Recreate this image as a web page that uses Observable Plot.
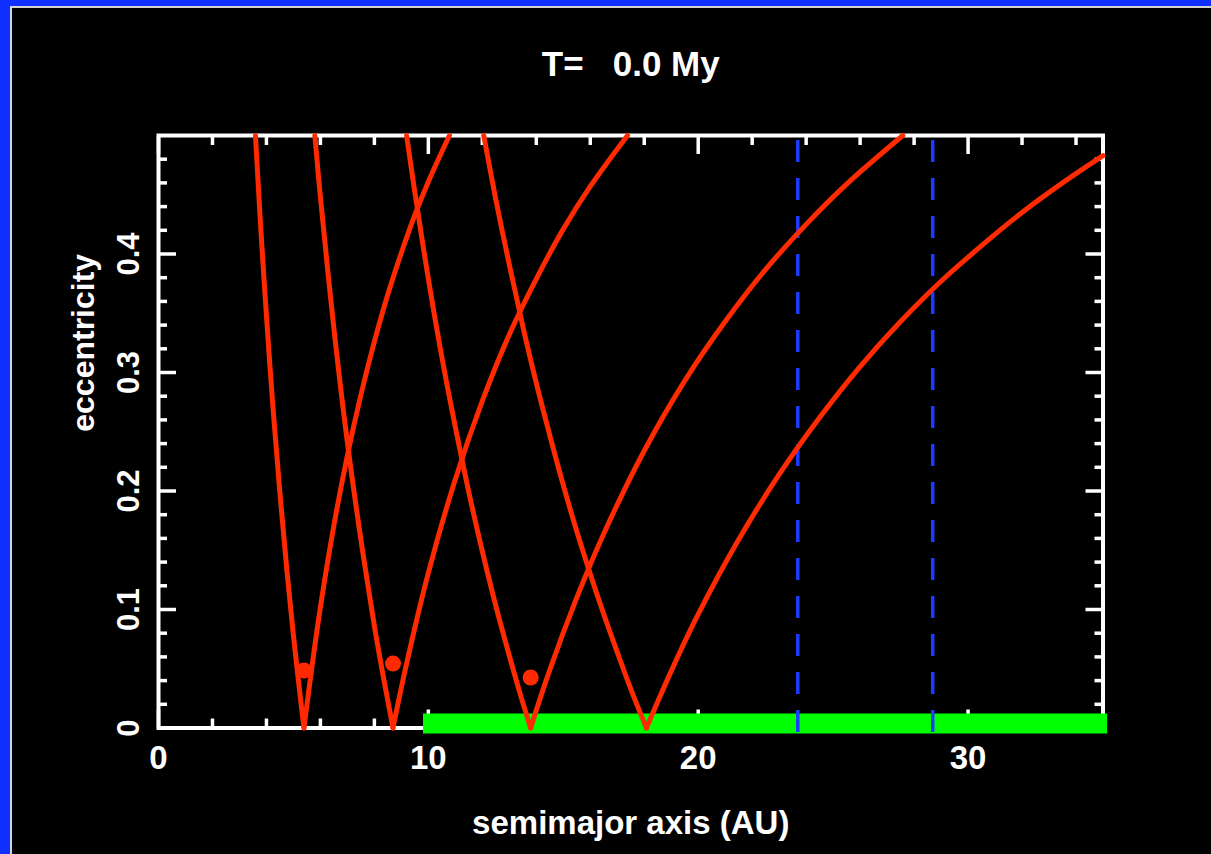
<!DOCTYPE html>
<html>
<head>
<meta charset="utf-8">
<script src="https://cdn.jsdelivr.net/npm/d3@7"></script>
<script src="https://cdn.jsdelivr.net/npm/@observablehq/plot@0.6"></script>
<style>
  html, body { margin: 0; padding: 0; background: #000; }
  #wrap { position: relative; width: 1211px; height: 854px; overflow: hidden; background: #000; }
  #bt { position: absolute; left: 0; top: 0; width: 1211px; height: 6px; background: #1030ff; }
  #bl { position: absolute; left: 0; top: 0; width: 10px; height: 854px; background: #1030ff; }
  #gt { position: absolute; left: 10px; top: 6px; width: 1201px; height: 2px; background: #d4d4d4; }
  #gl { position: absolute; left: 10px; top: 6px; width: 2px; height: 848px; background: #d4d4d4; }
  #chart { position: absolute; left: 0; top: 0; }
  #chart svg text { white-space: pre; }
</style>
</head>
<body>
<div id="wrap">
  <div id="bt"></div><div id="bl"></div><div id="gt"></div><div id="gl"></div>
  <div id="chart"></div>
</div>
<script>
// ---- data ----
const titleText = "T=   0.0 My";
const xLabelText = "semimajor axis (AU)";
const yLabelText = "eccentricity";

const xTickLabels = [0, 10, 20, 30];
const xMajorTicks = [0, 10, 20, 30];
const xMinorTicks = [2, 4, 6, 8, 12, 14, 16, 18, 22, 24, 26, 28, 32, 34];
const yTickLabels = [0, 0.1, 0.2, 0.3, 0.4];
const yMajorTicks = [0, 0.1, 0.2, 0.3, 0.4];
const yMinorTicks = [0.02, 0.04, 0.06, 0.08, 0.12, 0.14, 0.16, 0.18, 0.22, 0.24, 0.26, 0.28,
                     0.32, 0.34, 0.36, 0.38, 0.42, 0.44, 0.46, 0.48];

// planets (red dots): semimajor axis and eccentricity
const planetA = [5.39, 8.69, 13.79];
const planetE = [0.0485, 0.0544, 0.0426];

// blue dashed verticals
const dashedA = [23.69, 28.69];

// green band along e = 0
const greenBandA = [9.82, 35.17];

// orbit-crossing curves [a, e]: left (apocentre) and right (pericentre) branches
const p1Left  = [[3.593,0.5],[3.8,0.418],[4.0,0.348],[4.25,0.268],[4.5,0.198],[4.75,0.135],[5.0,0.078],[5.2,0.037],[5.39,0]];
const p1Right = [[5.39,0],[5.7,0.054],[6,0.102],[6.5,0.171],[7,0.230],[7.5,0.281],[8,0.326],[8.5,0.366],[9,0.401],[9.5,0.433],[10,0.461],[10.78,0.5]];
const p2Left  = [[5.793,0.5],[6,0.448],[6.5,0.337],[7,0.241],[7.5,0.159],[8,0.086],[8.35,0.041],[8.69,0]];
const p2Right = [[8.69,0],[9.2,0.055],[10,0.131],[11,0.210],[12,0.276],[13,0.332],[14,0.379],[15,0.421],[16,0.457],[17.38,0.5]];
const p3Left  = [[9.193,0.5],[9.5,0.452],[10,0.379],[10.5,0.313],[11,0.254],[11.5,0.199],[12,0.149],[12.5,0.103],[13,0.061],[13.4,0.029],[13.79,0]];
const p3Right = [[13.79,0],[14.5,0.049],[15.5,0.110],[16.5,0.164],[18,0.234],[19.5,0.293],[21,0.343],[22.5,0.387],[24,0.425],[25.5,0.459],[27.58,0.5]];
const p4Left  = [[12.053,0.5],[12.5,0.446],[13,0.391],[13.5,0.339],[14,0.291],[14.5,0.247],[15,0.205],[15.5,0.166],[16,0.130],[16.5,0.096],[17,0.064],[17.5,0.033],[18.08,0]];
const p4Right = [[18.08,0],[19,0.048],[20,0.096],[21.5,0.159],[23,0.214],[24.5,0.262],[26,0.305],[27.5,0.343],[29,0.377],[30.5,0.407],[32,0.435],[33.5,0.460],[35,0.483]];

// ---- build tables ----
const branches = {p1Left, p1Right, p2Left, p2Right, p3Left, p3Right, p4Left, p4Right};
const curveRows = Object.entries(branches).flatMap(([name, pts]) =>
  pts.map(([a, e]) => ({branch: name, a, e})));
const planets = planetA.map((a, i) => ({a, e: planetE[i]}));

const RED = "#ff2a00";
const WHITE = "#ffffff";
const FONT = "'Liberation Sans', Arial, Helvetica, sans-serif";

const plot = Plot.plot({
  width: 1211,
  height: 854,
  marginLeft: 158,
  marginRight: 108.5,
  marginTop: 135,
  marginBottom: 126.5,
  style: {background: "transparent", color: WHITE, fontFamily: FONT, fontWeight: "bold", overflow: "visible"},
  x: {domain: [0, 35], axis: null, label: null},
  y: {domain: [0, 0.5], axis: null, label: null},
  marks: [
    Plot.frame({stroke: WHITE, strokeWidth: 4}),
    // major / minor ticks on all four sides, pointing inward
    Plot.axisX({anchor: "bottom", ticks: xMajorTicks, tickSize: 18, dy: -18, text: null, label: null, stroke: WHITE, strokeWidth: 3.5}),
    Plot.axisX({anchor: "bottom", ticks: xMinorTicks, tickSize: 9, dy: -9, text: null, label: null, stroke: WHITE, strokeWidth: 3.5}),
    Plot.axisX({anchor: "top", ticks: xMajorTicks, tickSize: 18, dy: 18, text: null, label: null, stroke: WHITE, strokeWidth: 3.5}),
    Plot.axisX({anchor: "top", ticks: xMinorTicks, tickSize: 9, dy: 9, text: null, label: null, stroke: WHITE, strokeWidth: 3.5}),
    Plot.axisY({anchor: "left", ticks: yMajorTicks, tickSize: 18, dx: 18, text: null, label: null, stroke: WHITE, strokeWidth: 3.5}),
    Plot.axisY({anchor: "left", ticks: yMinorTicks, tickSize: 9, dx: 9, text: null, label: null, stroke: WHITE, strokeWidth: 3.5}),
    Plot.axisY({anchor: "right", ticks: yMajorTicks, tickSize: 18, dx: -18, text: null, label: null, stroke: WHITE, strokeWidth: 3.5}),
    Plot.axisY({anchor: "right", ticks: yMinorTicks, tickSize: 9, dx: -9, text: null, label: null, stroke: WHITE, strokeWidth: 3.5}),
    // tick labels
    Plot.axisX({anchor: "bottom", ticks: xTickLabels, tickSize: 0, tickPadding: 18, label: null,
      fontSize: 33, fontWeight: "bold", fill: WHITE, tickFormat: d => String(d)}),
    Plot.axisY({anchor: "left", ticks: yTickLabels, tickSize: 0, tickPadding: 20, tickRotate: -90, label: null,
      fontSize: 31, fontWeight: "bold", fill: WHITE, tickFormat: d => d === 0 ? "0" : d.toFixed(1)}),
    // green band
    Plot.ruleY([0], {x1: greenBandA[0], x2: greenBandA[1], stroke: "#00ff00", strokeWidth: 20, dy: -4.5}),
    // blue dashed lines
    Plot.ruleX(dashedA, {y1: 0.5, y2: 0, insetBottom: -4.5, stroke: "#1a3cff", strokeWidth: 3.5,
      strokeDasharray: "22,16", strokeDashoffset: -5}),
    // crossing curves
    Plot.line(curveRows, {x: "a", y: "e", z: "branch", stroke: RED, strokeWidth: 5,
      curve: "catmull-rom", strokeLinecap: "round", strokeLinejoin: "round"}),
    // planets
    Plot.dot(planets, {x: "a", y: "e", r: 8, fill: RED, stroke: "none"}),
    // titles
    Plot.text([titleText], {frameAnchor: "top", lineAnchor: "bottom", dy: -60, fontSize: 35, fontWeight: "bold", fill: WHITE}),
    Plot.text([xLabelText], {frameAnchor: "bottom", lineAnchor: "bottom", dy: 105.5, fontSize: 33, fontWeight: "bold", fill: WHITE}),
    Plot.text([yLabelText], {frameAnchor: "left", lineAnchor: "bottom", rotate: -90, dx: -65, fontSize: 32, fontWeight: "bold", fill: WHITE})
  ]
});
document.getElementById("chart").appendChild(plot);
</script>
</body>
</html>
